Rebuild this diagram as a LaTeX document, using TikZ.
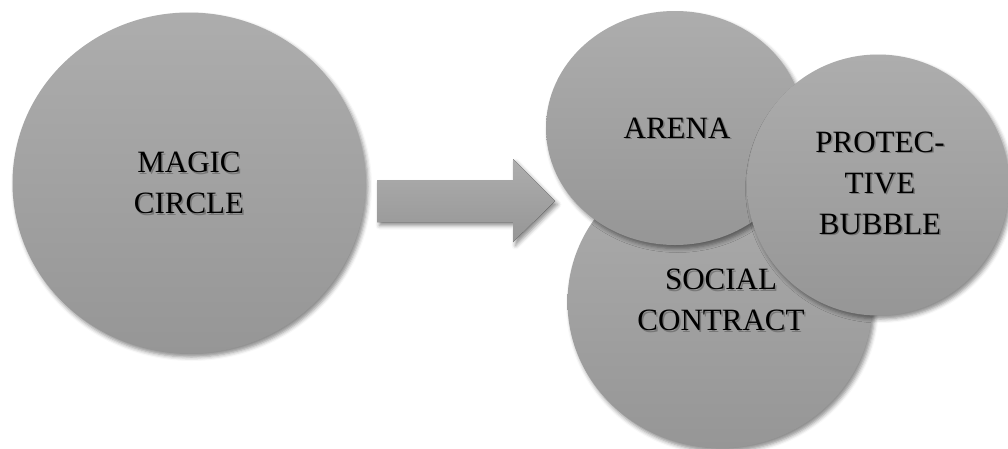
\documentclass[tikz,border=0pt]{standalone}
\usepackage{fontspec}
\setmainfont{Liberation Serif}
\usetikzlibrary{shapes.geometric,shadows.blur}

\definecolor{discTop}{HTML}{ADADAD}
\definecolor{discBottom}{HTML}{969696}

\tikzset{
  fillgrad/.style={top color=discTop, bottom color=discBottom,
    blur shadow={shadow xshift=2.5pt, shadow yshift=-3.5pt,
      shadow blur radius=4pt, shadow opacity=45}},
  disc/.style={ellipse, inner sep=0pt, draw=none, fillgrad},
  caption/.style={font=\fontsize{31}{41}\selectfont, align=center, text=black},
}
% text with a faint drop shadow
\newcommand{\shadowtext}[3]{%
  \node[caption, text=black, opacity=0.25] at ([xshift=1.5pt,yshift=-1.5pt]#1) {#3};
  \node[caption] (#2) at (#1) {#3};}

\begin{document}
\begin{tikzpicture}[x=1pt, y=-1pt]
  \useasboundingbox (0,0) rectangle (1008,448);

  % left circle
  \node[disc, minimum width=353pt, minimum height=341pt] (magic) at (189,183) {};
  \shadowtext{189,183}{magictxt}{MAGIC\\CIRCLE}

  % block arrow
  \fill[fillgrad]
    (377,180) -- (513,180) -- (513,159) -- (555,201) -- (513,242) -- (513,222) -- (377,222) -- cycle;

  % right group: back to front
  \node[disc, minimum width=305pt, minimum height=292pt] (social) at (720,302) {};
  \node[disc, minimum width=258pt, minimum height=234pt] (arena) at (675,128) {};
  \node[disc, minimum width=262pt, minimum height=261pt] (bubble) at (878,185) {};

  \shadowtext{721,300}{socialtxt}{SOCIAL\\CONTRACT}
  \shadowtext{677,128}{arenatxt}{ARENA}
  \shadowtext{880,183}{bubbletxt}{PROTEC-\\TIVE\\BUBBLE}
\end{tikzpicture}
\end{document}
